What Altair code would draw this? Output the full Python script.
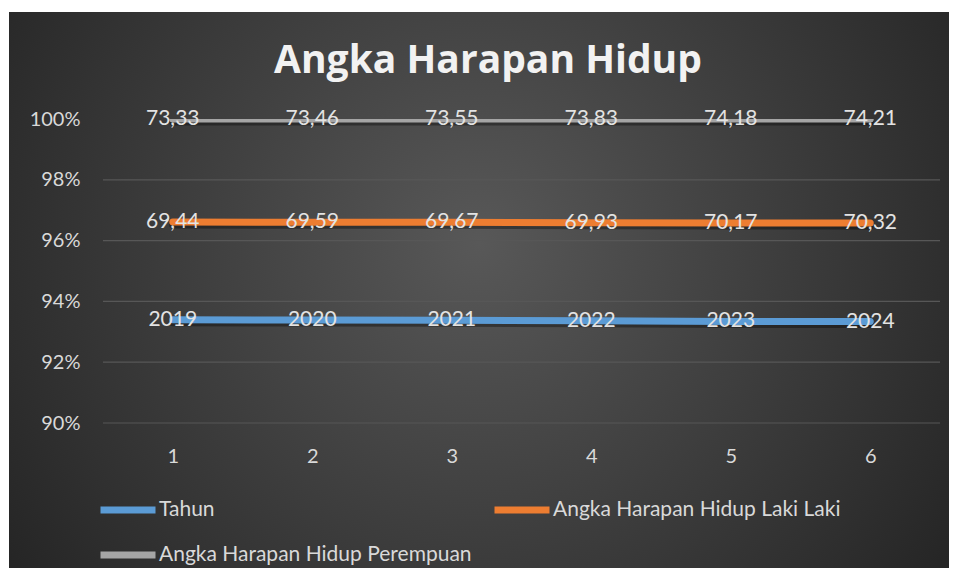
import altair as alt
import pandas as pd

# ---- data ----
categories = [1, 2, 3, 4, 5, 6]
tahun = [2019, 2020, 2021, 2022, 2023, 2024]
laki_laki = [69.44, 69.59, 69.67, 69.93, 70.17, 70.32]
perempuan = [73.33, 73.46, 73.55, 73.83, 74.18, 74.21]
series_names = ["Tahun", "Angka Harapan Hidup Laki Laki", "Angka Harapan Hidup Perempuan"]
series_colors = ["#5B9BD5", "#ED7D31", "#A5A5A5"]
# legend lists entries column by column: Tahun / Perempuan in the first column, Laki Laki in the second
legend_order = [0, 2, 1]
y_ticks = [0.90, 0.92, 0.94, 0.96, 0.98, 1.00]
grid_vals = [0.90, 0.92, 0.94, 0.96, 0.98]
title_text = ["Angka Harapan Hidup"]

rows = []
for s_i, (name, vals) in enumerate(zip(series_names, [tahun, laki_laki, perempuan])):
    for c, v in zip(categories, vals):
        label = str(v) if s_i == 0 else f"{v:.2f}".replace(".", ",")
        rows.append({"x": c, "series": name, "ord": s_i, "value": v, "label": label})
df = pd.DataFrame(rows)

W, H = 837, 304
FONT = "Lato"
LBL = "#d9d9d9"

y_scale = alt.Scale(domain=[0.9, 1.0], nice=False, zero=False)
y_axis = alt.Axis(values=y_ticks, format=".0%", grid=False, domain=False, ticks=False, zindex=2,
                  labelColor=LBL, labelFontSize=20, labelFont=FONT, labelPadding=23, title=None)
x_enc = alt.X("x:O", scale=alt.Scale(type="point", padding=0.5),
              axis=alt.Axis(labelAngle=0, domain=False, ticks=False, grid=False, zindex=2,
                            labelColor=LBL, labelFontSize=20, labelFont=FONT,
                            labelBaseline="middle", labelPadding=33, title=None))

base = alt.Chart(df).transform_stack(
    stack="value", groupby=["x"], as_=["y0", "y1"], offset="normalize",
    sort=[alt.SortField("ord", order="ascending")]
)

bg = alt.Chart(pd.DataFrame({"k": [0]})).mark_rect(
    color={"gradient": "radial",
           "x1": 0.5, "y1": 0.45, "r1": 0,
           "x2": 0.5, "y2": 0.45, "r2": 0.62,
           "stops": [{"offset": 0, "color": "#585858"},
                     {"offset": 1, "color": "#242424"}]}
).encode(x=alt.value(-94), x2=alt.value(W + 9), y=alt.value(-107), y2=alt.value(H + 145))

tdf = pd.DataFrame({"t": title_text})
title = alt.Chart(tdf).mark_text(
    font="Open Sans", fontSize=39, fontWeight="bold", color="#f2f2f2",
    align="center", baseline="alphabetic"
).encode(x=alt.value(385), y=alt.value(-46), text="t:N")

grid = alt.Chart(pd.DataFrame({"g": grid_vals})).mark_rule(color="#575757", strokeWidth=1.2).encode(
    y=alt.Y("g:Q", scale=y_scale, axis=y_axis)
)

shadow = base.mark_line(strokeWidth=7, color="#000000", opacity=0.35, yOffset=3,
                        strokeCap="round", clip=True).encode(
    x=x_enc,
    y=alt.Y("y1:Q", scale=y_scale, axis=y_axis),
    detail="series:N",
)

lines = base.mark_line(strokeWidth=7, strokeCap="round", clip=True).encode(
    x=x_enc,
    y=alt.Y("y1:Q", scale=y_scale, axis=y_axis),
    color=alt.Color("series:N",
                    scale=alt.Scale(domain=[series_names[i] for i in legend_order],
                                    range=[series_colors[i] for i in legend_order]),
                    legend=alt.Legend(title=None, orient="none", legendX=-6, legendY=360,
                                      columns=2, columnPadding=8, rowPadding=-13,
                                      symbolType="stroke", symbolSize=3025, symbolStrokeWidth=7,
                                      labelColor=LBL, labelFontSize=21, labelFont=FONT,
                                      labelOffset=0, padding=0, labelLimit=500, zindex=2)),
)

labels = base.mark_text(color="#e3e3e3", fontSize=21, font=FONT, baseline="middle", align="center").encode(
    x=x_enc,
    y=alt.Y("y1:Q", scale=y_scale, axis=y_axis),
    text="label:N",
)

chart = alt.layer(bg, title, grid, shadow, lines, labels).properties(
    width=W, height=H,
    autosize=alt.AutoSizeParams(type="none"),
    padding={"left": 95, "top": 111, "right": 9, "bottom": 145},
).configure(background="#ffffff").configure_view(stroke=None)

chart.save("out.html", embed_options={"renderer": "svg", "actions": False})
